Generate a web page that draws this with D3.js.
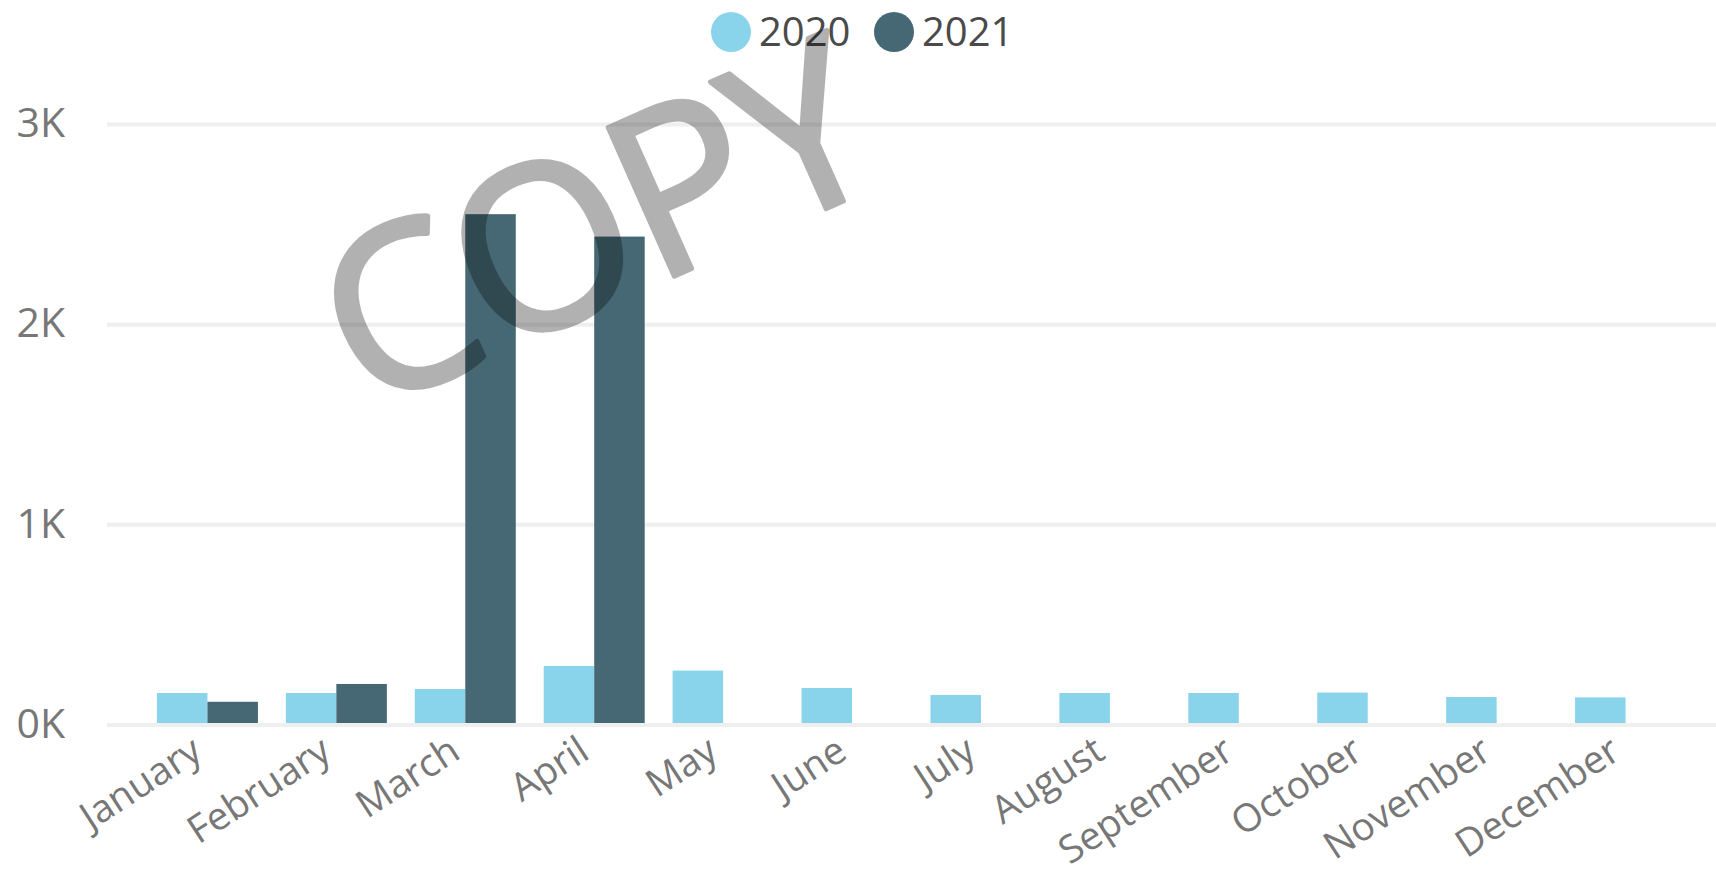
<!DOCTYPE html>
<html>
<head>
<meta charset="utf-8">
<script src="https://cdn.jsdelivr.net/npm/d3@7"></script>
<style>
    html, body { margin: 0; padding: 0; background: #ffffff; }
    #chart { width: 1716px; height: 874px; overflow: hidden; }
    text { font-family: "Segoe UI", "Open Sans", sans-serif; }
</style>
</head>
<body>
<div id="chart"></div>
<script>
// values
const months = ["January", "February", "March", "April", "May", "June",
    "July", "August", "September", "October", "November", "December"];
const seriesNames = ["2020", "2021"];
const values2020 = [150, 150, 170, 285, 262, 175, 140, 150, 150, 152, 130, 128];
const values2021 = [106, 195, 2542, 2430, null, null, null, null, null, null, null, null];
const yTicks = [0, 1000, 2000, 3000];
const watermarkText = "COPY";

class GroupedBarChart {
    constructor(_config) {
        this.config = {
            parentElement: _config.parentElement,
            containerWidth: _config.containerWidth,
            containerHeight: _config.containerHeight,
            colors: _config.colors,
            margin: {top: 122.5, bottom: 151, right: 26, left: 143}
        }
        this.initVis();
    }

    initVis() {
        let vis = this;

        vis.width = vis.config.containerWidth - vis.config.margin.left - vis.config.margin.right;
        vis.height = vis.config.containerHeight - vis.config.margin.top - vis.config.margin.bottom;

        vis.svg = d3.select(vis.config.parentElement).append("svg")
            .attr("width", vis.config.containerWidth)
            .attr("height", vis.config.containerHeight);

        vis.chart = vis.svg.append("g")
            .attr("transform", `translate(${vis.config.margin.left}, ${vis.config.margin.top})`);

        vis.xScale = d3.scaleBand()
            .domain(months)
            .range([0, vis.width])
            .paddingInner(0.2165)
            .paddingOuter(0.108);

        vis.xSub = d3.scaleBand()
            .domain(seriesNames)
            .range([0, vis.xScale.bandwidth()]);

        vis.yScale = d3.scaleLinear()
            .domain([0, 3000])
            .range([vis.height, 0]);

        vis.colorScale = d3.scaleOrdinal()
            .domain(seriesNames)
            .range(vis.config.colors);

        vis.gridGroup = vis.chart.append("g");
        vis.barGroup = vis.chart.append("g");
        vis.axisGroup = vis.chart.append("g");
        vis.legendGroup = vis.svg.append("g");
        vis.markGroup = vis.svg.append("g");

        vis.renderVis();
    }

    renderVis() {
        let vis = this;

        // gridlines reach further left than the bars
        vis.gridGroup.selectAll(".grid")
            .data(yTicks)
            .join("line")
            .attr("class", "grid")
            .attr("x1", 107 - vis.config.margin.left)
            .attr("x2", vis.config.containerWidth - vis.config.margin.left)
            .attr("y1", d => vis.yScale(d) + 2)
            .attr("y2", d => vis.yScale(d) + 2)
            .attr("stroke", "#efefef")
            .attr("stroke-width", 4);

        vis.axisGroup.selectAll(".y-label")
            .data(yTicks)
            .join("text")
            .attr("class", "y-label")
            .attr("x", 65 - vis.config.margin.left)
            .attr("y", d => vis.yScale(d))
            .attr("dy", "0.36em")
            .attr("text-anchor", "end")
            .attr("font-size", 41)
            .attr("fill", "#777777")
            .text(d => d / 1000 + "K");

        const rows = [];
        months.forEach((m, i) => {
            if (values2020[i] != null) rows.push({month: m, series: "2020", value: values2020[i]});
            if (values2021[i] != null) rows.push({month: m, series: "2021", value: values2021[i]});
        });

        vis.barGroup.selectAll(".bar")
            .data(rows)
            .join("rect")
            .attr("class", "bar")
            .attr("x", d => vis.xScale(d.month) + vis.xSub(d.series))
            .attr("width", vis.xSub.bandwidth())
            .attr("y", d => vis.yScale(d.value))
            .attr("height", d => vis.yScale(0) - vis.yScale(d.value))
            .attr("fill", d => vis.colorScale(d.series));

        vis.axisGroup.selectAll(".x-label")
            .data(months)
            .join("text")
            .attr("class", "x-label")
            .attr("transform", d => {
                const cx = vis.xScale(d) + vis.xScale.bandwidth() / 2 - 18;
                return `translate(${cx}, ${vis.height + 11}) rotate(-33)`;
            })
            .attr("dy", "0.72em")
            .attr("text-anchor", "end")
            .attr("font-size", 38.5)
            .attr("fill", "#777777")
            .text(d => d);

        // legend
        const legendX = [731, 894];
        const items = vis.legendGroup.selectAll(".legend-item")
            .data(seriesNames)
            .join("g")
            .attr("class", "legend-item")
            .attr("transform", (d, i) => `translate(${legendX[i]}, 32)`);

        items.append("circle")
            .attr("r", 20)
            .attr("fill", d => vis.colorScale(d));

        items.append("text")
            .attr("x", 28)
            .attr("y", 14)
            .attr("font-size", 40)
            .attr("fill", "#4a4a4a")
            .text(d => d);

        // watermark over the chart, drawn as one translucent layer
        vis.markGroup.append("g")
            .attr("opacity", 0.3)
            .append("text")
            .attr("transform", "translate(594, 220) rotate(-24)")
            .attr("y", 84)
            .attr("text-anchor", "middle")
            .attr("font-size", 228)
            .attr("letter-spacing", -3)
            .attr("fill", "#000000")
            .attr("stroke", "#000000")
            .attr("stroke-width", 5)
            .attr("stroke-linejoin", "round")
            .text(watermarkText);
    }
}

const chart = new GroupedBarChart({
    parentElement: "#chart",
    containerWidth: 1716,
    containerHeight: 874,
    colors: ["#8AD4EB", "#466874"]
});
</script>
</body>
</html>
